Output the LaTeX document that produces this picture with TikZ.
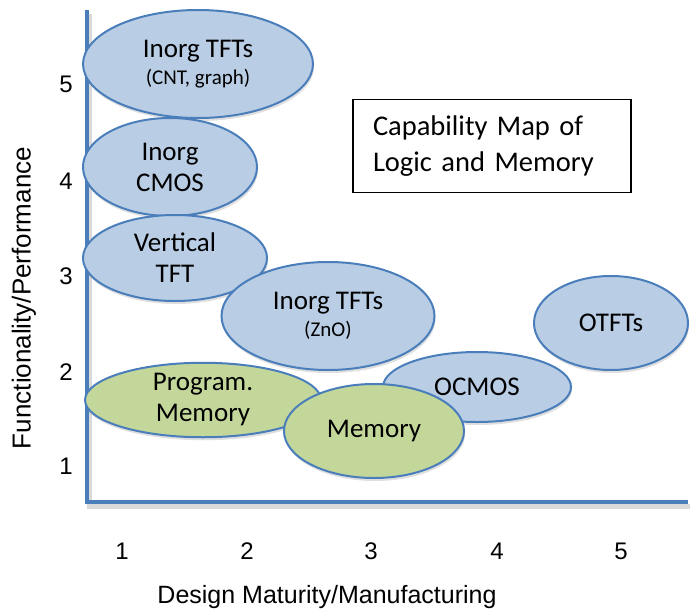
\documentclass[tikz,border=0pt]{standalone}
\usepackage{fontspec}
\setmainfont{Carlito}
\newfontfamily\arialfont{Liberation Sans}
\usepackage{tikz}
\usetikzlibrary{positioning,shapes,shadows}
\definecolor{axisblue}{HTML}{4A7EBB}
\definecolor{techblue}{HTML}{B9CDE5}
\definecolor{memgreen}{HTML}{C4D79B}
\tikzstyle{tech}=[ellipse, draw=axisblue, fill=techblue, line width=2pt, inner sep=0pt, align=center, font=\fontsize{27}{31}\selectfont, drop shadow={shadow xshift=1pt,shadow yshift=-3pt,opacity=0.25}]
\tikzstyle{mem}=[tech, fill=memgreen]
\tikzstyle{tick}=[font=\arialfont\fontsize{24}{28}\selectfont]
\newcommand{\sub}[1]{\\[-4pt]{\fontsize{21}{24}\selectfont #1}}

\begin{document}
\begin{tikzpicture}[x=1pt,y=-1pt]
\useasboundingbox (0,0) rectangle (691,611);

% axes
\coordinate (ytop) at (87,10);
\coordinate (origin) at (87,502);
\coordinate (xend) at (688,502);
\draw[black, opacity=0.15, line width=5pt] ([shift={(2,4)}]ytop) -- ([shift={(2,4)}]origin) -- ([shift={(2,4)}]xend);
\draw[axisblue, line width=4pt] (ytop) -- (origin) -- (xend);

\foreach \n/\y in {5/84,4/181,3/276,2/372,1/466}
  \node[tick] (ylab\n) at (66,\y) {\n};
\foreach \n/\x in {1/122,2/247,3/371,4/497,5/621}
  \node[tick] (xlab\n) at (\x,551) {\n};

\node[tick, font=\arialfont\fontsize{26}{30}\selectfont, rotate=90] (ytitle) at (24,298) {Functionality/Performance};
\node[tick, font=\arialfont\fontsize{25}{30}\selectfont] (xtitle) at (327,597) {Design Maturity/Manufacturing};

% technologies
\node[tech, minimum width=230pt, minimum height=108pt] (cnt) at (198,64) {Inorg TFTs\sub{(CNT, graph)}};
\node[tech, minimum width=174pt, minimum height=98pt] (cmos) at (170,167) {Inorg\\CMOS};
\node[tech, minimum width=184pt, minimum height=86pt] (vtft) at (175,258) {Vertical\\TFT};
\node[tech, minimum width=213pt, minimum height=108pt] (zno) at (328,316) {Inorg TFTs\sub{(ZnO)}};
\node[tech, minimum width=154pt, minimum height=94pt] (otft) at (611,323) {OTFTs};
\node[tech, minimum width=188pt, minimum height=70pt] (ocmos) at (477,387) {OCMOS};
\node[mem, minimum width=236pt, minimum height=70pt] (pmem) at (203,400) {Program.\\Memory};
\node[mem, minimum width=180pt, minimum height=94pt] (mem) at (374,431) {Memory};

\node[draw, line width=1.5pt, fill=white, minimum height=93pt, text width=238pt, inner xsep=20pt, align=left, font=\fontsize{28.5}{36}\selectfont] (title) at (492,146) {Capability Map of\\Logic and Memory};
\end{tikzpicture}
\end{document}
